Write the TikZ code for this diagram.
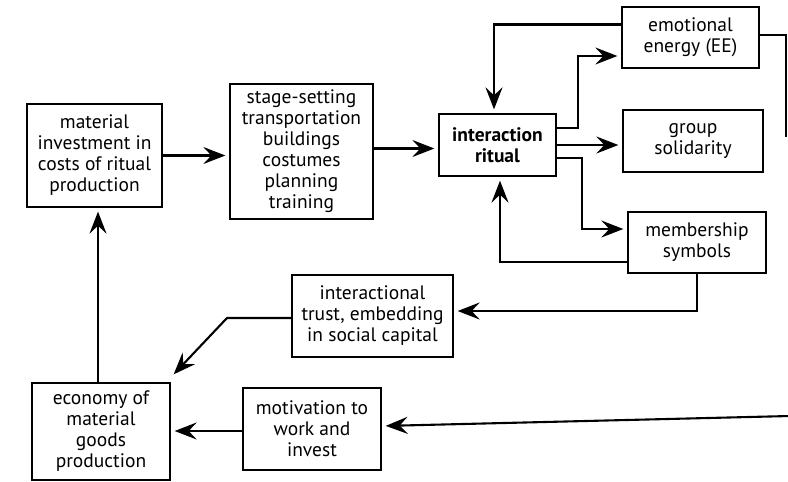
\documentclass[tikz,border=0pt]{standalone}
\usepackage{fontspec}
\setmainfont{PT Sans}
\usetikzlibrary{arrows.meta}
\begin{document}
\begin{tikzpicture}[x=1pt,y=-1pt,
  box/.style={draw,line width=1.3pt,align=center,inner sep=1pt,
    font=\fontsize{19.5}{21}\selectfont},
  arr/.style={line width=2.1pt,-{Stealth[length=22pt,width=17pt,inset=8pt]},shorten >=4pt},
  ln/.style={line width=1.8pt}]
\useasboundingbox (0,0) rectangle (788,482);
\node[box,minimum width=135pt,minimum height=103pt] (mat) at (94.5,155.5) {material\\investment in\\costs of ritual\\production};
\node[box,minimum width=143pt,minimum height=135pt] (stage) at (301.5,151.5) {stage-setting\\transportation\\buildings\\costumes\\planning\\training};
\node[box,minimum width=117pt,minimum height=62pt,font=\fontsize{19.5}{21}\selectfont\bfseries] (ir) at (497.5,145) {interaction\\ritual};
\node[box,minimum width=137pt,minimum height=61pt] (ee) at (690.5,37.5) {emotional\\energy (EE)};
\node[box,minimum width=140pt,minimum height=62pt] (gs) at (693,141) {group\\solidarity};
\node[box,minimum width=138pt,minimum height=61pt] (ms) at (697,242.5) {membership\\symbols};
\node[box,minimum width=161pt,minimum height=82pt] (trust) at (372.5,316) {interactional\\trust, embedding\\in social capital};
\node[box,minimum width=138pt,minimum height=97pt] (econ) at (101,431.5) {economy of\\material\\goods\\production};
\node[box,minimum width=138pt,minimum height=82pt] (mot) at (312,429) {motivation to\\work and\\invest};
\coordinate (tbend) at (227,318);
\coordinate (eeout) at (786,137);
\coordinate (rin) at (790,416);
% connectors
\draw[arr] (mat.east) -- (mat.east -| stage.west);
\draw[arr] ([yshift=3pt]stage.east) -- ([yshift=3pt]stage.east -| ir.west);
\draw[arr] ([yshift=13pt]ee.west) -| ([xshift=-3.5pt]ir.north);
\draw[arr] ([yshift=17pt]ir.east) -| ([xshift=-43pt,yshift=-18.5pt]ee.west) -- ([yshift=-18.5pt]ee.west);
\draw[arr] (ir.east) -- (ir.east -| gs.west);
\draw[arr] ([yshift=-13pt]ir.east) -| ([xshift=-45pt,yshift=13.5pt]ms.west) -- ([yshift=13.5pt]ms.west);
\draw[arr] ([yshift=-19.5pt]ms.west) -| ([xshift=2.5pt]ir.south);
\draw[arr] (ms.south) |- ([yshift=5pt]trust.east);
\draw[arr,shorten >=0pt] ([yshift=-2pt]trust.west) -- (tbend) -- ([shift={(3pt,8pt)}]econ.north east);
\draw[arr] ([xshift=-3pt]econ.north) -- ([xshift=-3pt]econ.north |- mat.south);
\draw[arr] ([yshift=-2pt]mot.west) -- ([yshift=-2pt]mot.west -| econ.east);
\draw[arr] (rin) -- ([yshift=3pt]mot.east);
\draw[ln] ([yshift=2.5pt]ee.east) -| (eeout);
\end{tikzpicture}
\end{document}
